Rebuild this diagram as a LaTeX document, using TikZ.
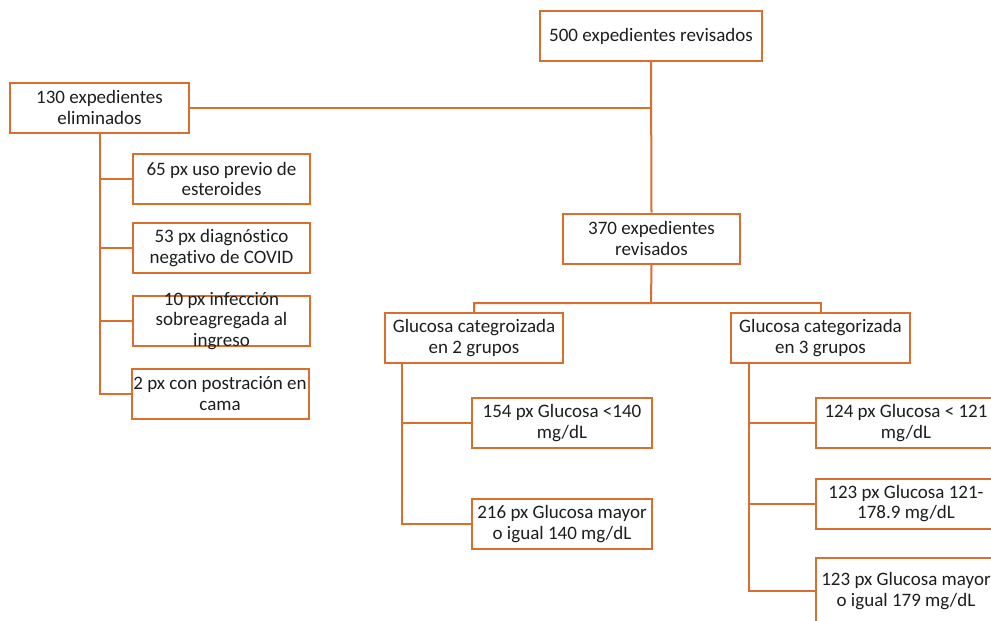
\documentclass[tikz,border=0pt]{standalone}
\usepackage{fontspec}
\setmainfont{Carlito}[Ligatures={NoCommon}]
\usetikzlibrary{positioning}
\definecolor{boxorange}{RGB}{218,110,44}
\definecolor{inkgray}{RGB}{30,30,30}

\tikzset{
  box/.style={draw=boxorange, line width=2pt, fill=white, text=inkgray,
    minimum width=#1, minimum height=50, inner sep=1pt, align=center,
    font=\fontsize{19}{20.5}\selectfont},
  box/.default=178,
  boxtext/.style={text=inkgray, inner sep=0pt, align=center,
    font=\fontsize{19}{20.5}\selectfont},
  link/.style={draw=boxorange, line width=2pt}
}

\begin{document}
\begin{tikzpicture}[x=1pt, y=-1pt]
\useasboundingbox (0,0) rectangle (991,621);

% raiz
\node[box=222] (top) at (651,36) {500 expedientes revisados};

% eliminados
\node[box=179] (elim) at (99.5,107.5) {130 expedientes\\ eliminados};
\node[box=177] (ex1) at (221.5,179) {65 px uso previo de\\ esteroides};
\node[box=177] (ex2) at (221.5,248) {53 px diagnóstico\\ negativo de COVID};
\node[box=177] (ex3) at (221.5,321) {};
\node[boxtext] (ex3txt) at (ex3) {10 px infección\\ sobreagregada al\\ ingreso};
\node[box=177] (ex4) at (220,393.5) {2 px con postración en\\ cama};

% revisados
\node[box=177] (mid) at (651.5,238.5) {370 expedientes\\ revisados};
\node[box=178] (g2) at (474,338) {Glucosa categroizada\\ en 2 grupos};
\node[box=179] (g3) at (820.5,338) {Glucosa categorizada\\ en 3 grupos};

% 2 grupos
\node[box=180] (a1) at (562,423) {154 px Glucosa <140\\ mg/dL};
\node[box=180] (a2) at (562,524) {216 px Glucosa mayor\\ o igual 140 mg/dL};

% 3 grupos
\node[box=180] (b1) at (906,423) {124 px Glucosa < 121\\ mg/dL};
\node[box=180] (b2) at (906,503.5) {123 px Glucosa 121-\\ 178.9 mg/dL};
\node[box=180, minimum height=66] (b3) at (906,591) {123 px Glucosa mayor\\ o igual 179 mg/dL};

% conectores
\draw[link] (top.south) -- (mid.north);
\draw[link] (elim.east) -| (top.south);
\foreach \n in {ex1,ex2,ex3,ex4}
  \draw[link] (elim.south) |- (\n.west);

\coordinate (fork) at (651,303);
\draw[link] (mid.south) -- (fork) -| (g2.north);
\draw[link] (fork) -| (g3.north);

\coordinate (g2trunk) at ([xshift=18pt]g2.south west);
\foreach \n in {a1,a2}
  \draw[link] (g2trunk) |- (\n.west);

\coordinate (g3trunk) at ([xshift=19pt]g3.south west);
\foreach \n in {b1,b2,b3}
  \draw[link] (g3trunk) |- (\n.west);

\end{tikzpicture}
\end{document}
